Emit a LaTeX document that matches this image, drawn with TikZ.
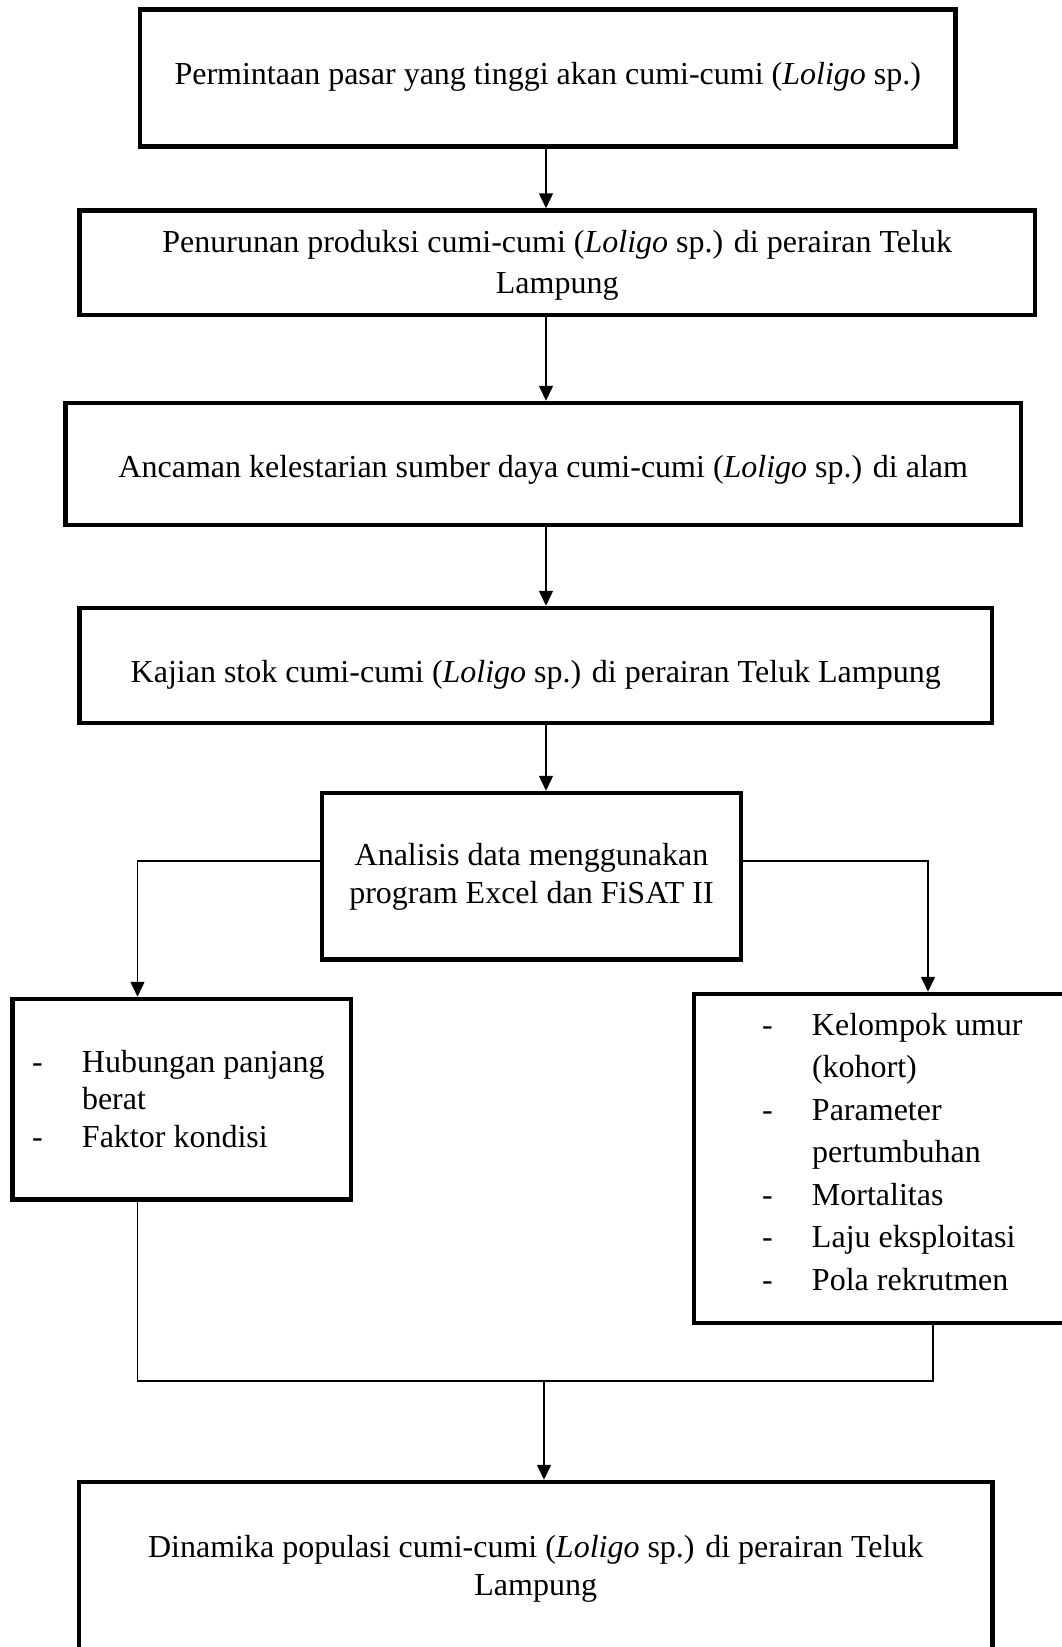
\documentclass[tikz,border=0pt]{standalone}
\usepackage{fontspec}
\setmainfont{Liberation Serif}
\usetikzlibrary{arrows.meta}

\begin{document}
\begin{tikzpicture}[x=1pt, y=-1pt,
    box/.style={draw, line width=4.5pt, inner sep=0pt, font=\fontsize{32}{38}\selectfont},
    link/.style={line width=1.5pt},
    arr/.style={link, -{Triangle[length=15pt, width=14pt]}}]
    \useasboundingbox (0,0) rectangle (1062,1647);

    % Main chain of boxes
    \node[box, minimum width=815.5pt, text height=74.5pt, text depth=62.5pt] (permintaan) at (547.75,78)
        {Permintaan pasar yang tinggi akan cumi-cumi (\textit{Loligo} sp.)};
    \node[box, minimum width=955.5pt, text height=42pt, text depth=62.5pt, font=\fontsize{32}{41}\selectfont] (penurunan) at (557.25,262.75)
        {\begin{tabular}[t]{@{}c@{}}Penurunan produksi cumi-cumi (\textit{Loligo} sp.) di perairan Teluk\\Lampung\end{tabular}};
    \node[box, minimum width=955.5pt, text height=74pt, text depth=48pt] (ancaman) at (543.25,464)
        {Ancaman kelestarian sumber daya cumi-cumi (\textit{Loligo} sp.) di alam};
    \node[box, minimum width=912.5pt, text height=74pt, text depth=41pt] (kajian) at (535.75,665.5)
        {Kajian stok cumi-cumi (\textit{Loligo} sp.) di perairan Teluk Lampung};
    \node[box, minimum width=419pt, text height=72pt, text depth=94.5pt] (analisis) at (531.5,876.25)
        {\begin{tabular}[t]{@{}c@{}}Analisis data menggunakan\\program Excel dan FiSAT II\end{tabular}};

    % Two result boxes (lists)
    \node[box, minimum width=338.5pt, text height=73pt, text depth=127.5pt, font=\fontsize{32}{37.5}\selectfont] (hubungan) at (181.75,1099.25)
        {\begin{tabular}[t]{@{}p{50pt}@{}p{249.5pt}@{}}
            - & Hubungan panjang\\
              & berat\\
            - & Faktor kondisi
        \end{tabular}};
    \node[box, minimum width=416pt, text height=41pt, text depth=288pt, font=\fontsize{32}{42.5}\selectfont] (kelompok) at (902,1158.5)
        {\begin{tabular}[t]{@{}p{50pt}@{}p{230pt}@{}}
            - & Kelompok umur\\
              & (kohort)\\
            - & Parameter\\
              & pertumbuhan\\
            - & Mortalitas\\
            - & Laju eksploitasi\\
            - & Pola rekrutmen
        \end{tabular}};

    % Final box, cut by the page edge
    \node[box, minimum width=913.5pt, text height=75pt, text depth=97pt] (dinamika) at (535.75,1568)
        {\begin{tabular}[t]{@{}c@{}}Dinamika populasi cumi-cumi (\textit{Loligo} sp.) di perairan Teluk\\Lampung\end{tabular}};

    % Branch and join points
    \coordinate (axis) at (546,0);
    \coordinate (sl) at (137.5,861);
    \coordinate (sr) at (928,861);
    \coordinate (jl) at (137.5,1381);
    \coordinate (jr) at (933,1381);
    \coordinate (jm) at (544,1381);

    % Arrows down the chain
    \draw[arr] (permintaan.south -| axis) -- (penurunan.north -| axis);
    \draw[arr] (penurunan.south -| axis) -- (ancaman.north -| axis);
    \draw[arr] (ancaman.south -| axis) -- (kajian.north -| axis);
    \draw[arr] (kajian.south -| axis) -- (analisis.north -| axis);

    % Split to both lists, then join again
    \draw[arr] (analisis.west |- sl) -- (sl) -- (hubungan.north -| sl);
    \draw[arr] (analisis.east |- sr) -- (sr) -- (kelompok.north -| sr);
    \draw[link] (hubungan.south -| jl) -- (jl) -- (jr) -- (kelompok.south -| jr);
    \draw[arr] (jm) -- (dinamika.north -| jm);
\end{tikzpicture}
\end{document}
